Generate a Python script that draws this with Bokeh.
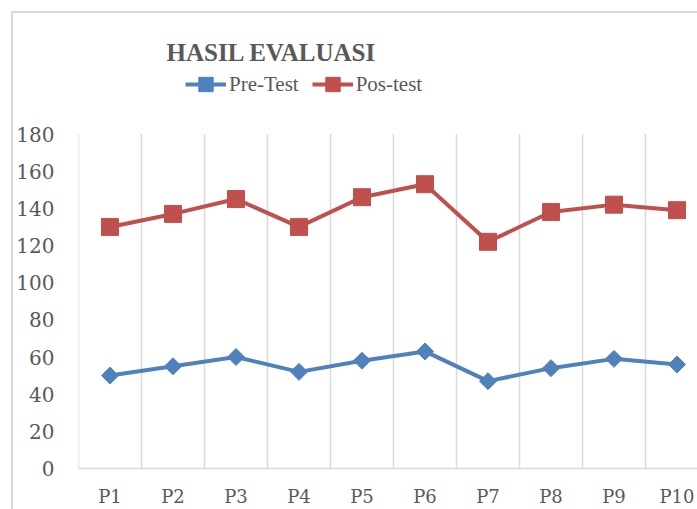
import math
from bokeh.plotting import figure
from bokeh.models import Range1d, FixedTicker, Legend, LegendItem
from bokeh.embed import file_html
from bokeh.resources import INLINE

# ---- data ----
categories = ["P1", "P2", "P3", "P4", "P5", "P6", "P7", "P8", "P9", "P10"]
pre_test = [50, 55, 60, 52, 58, 63, 47, 54, 59, 56]
pos_test = [130, 137, 145, 130, 146, 153, 122, 138, 142, 139]
y_ticks = [0, 20, 40, 60, 80, 100, 120, 140, 160, 180]

xs = list(range(1, len(categories) + 1))

BLUE = "#4F81BD"
RED = "#C0504D"
GRID = "#D9D9D9"
TXT = "#595959"

# ---- layout (pixels) ----
W, H = 697, 509
FRAME_LEFT = 78
FRAME_TOP = 70          # frame extends above plot area to hold the legend
PLOT_TOP = 134          # where the y value 180 sits
FRAME_BOTTOM = 471
CAT_W = 63

y_top = max(y_ticks) * (FRAME_BOTTOM - FRAME_TOP) / (FRAME_BOTTOM - PLOT_TOP)
x_end = 0.5 + (W - FRAME_LEFT) / CAT_W

p = figure(width=W, height=H, output_backend="svg", toolbar_location=None,
           x_range=Range1d(0.5, x_end), y_range=Range1d(0, y_top),
           min_border_left=FRAME_LEFT, min_border_right=0, min_border_top=FRAME_TOP,
           min_border_bottom=H - FRAME_BOTTOM)

p.border_fill_color = None
p.outline_line_color = None
p.background_fill_color = "white"
p.styles = {
    "background": "linear-gradient(#dadada,#dadada) 11px 11px / 2px 100% no-repeat, "
                  "linear-gradient(#dadada,#dadada) 11px 11px / 100% 2px no-repeat, #ffffff"
}

# title
p.title.text = "HASIL EVALUASI"
p.title.align = "left"
p.title.offset = 88
p.title.standoff = 10
p.title.text_font = "Liberation Serif"
p.title.text_font_size = "25px"
p.title.text_font_style = "bold"
p.title.text_color = TXT

# grids: vertical separators between categories, spanning the value axis only
p.ygrid.visible = False
p.xgrid.visible = False
sep = [i + 0.5 for i in range(len(categories))]
p.segment(x0=sep, y0=[min(y_ticks)] * len(sep), x1=sep, y1=[max(y_ticks)] * len(sep),
          line_color=GRID, line_width=1.5)

# x axis
p.xaxis.ticker = FixedTicker(ticks=xs)
p.xaxis.major_label_overrides = {x: c for x, c in zip(xs, categories)}
p.xaxis.axis_line_color = GRID
p.xaxis.axis_line_width = 1.5
p.xaxis.major_tick_line_color = None
p.xaxis.major_tick_out = 0
p.xaxis.minor_tick_line_color = None
p.xaxis.minor_tick_out = 0
p.xaxis.major_label_text_font = "DejaVu Serif"
p.xaxis.major_label_text_font_size = "18px"
p.xaxis.major_label_text_color = TXT
p.xaxis.major_label_standoff = 17

# y axis
p.yaxis.ticker = FixedTicker(ticks=y_ticks)
p.yaxis.axis_line_color = None
p.yaxis.major_tick_line_color = None
p.yaxis.major_tick_out = 0
p.yaxis.minor_tick_line_color = None
p.yaxis.minor_tick_out = 0
p.yaxis.major_label_text_font = "DejaVu Serif"
p.yaxis.major_label_text_font_size = "20px"
p.yaxis.major_label_text_color = TXT
p.yaxis.major_label_standoff = 24

# series
l1 = p.line(xs, pre_test, line_width=4, color=BLUE, line_join="round")
s1 = p.scatter(xs, pre_test, marker="square", angle=math.pi / 4, size=12, color=BLUE)
l2 = p.line(xs, pos_test, line_width=4, color=RED, line_join="round")
s2 = p.scatter(xs, pos_test, marker="square", size=17, color=RED)

legend = Legend(items=[LegendItem(label="Pre-Test", renderers=[l1, s1]),
                       LegendItem(label="Pos-test", renderers=[l2, s2])],
                orientation="horizontal",
                location=(185 - FRAME_LEFT, FRAME_BOTTOM - 87 - 18),
                glyph_width=41, glyph_height=36, label_standoff=3, spacing=13,
                padding=0, margin=0,
                label_text_font="Liberation Serif", label_text_font_size="21px",
                label_text_color=TXT,
                background_fill_alpha=0, border_line_alpha=0)
p.add_layout(legend)

open("out.html", "w").write(file_html(p, INLINE))
